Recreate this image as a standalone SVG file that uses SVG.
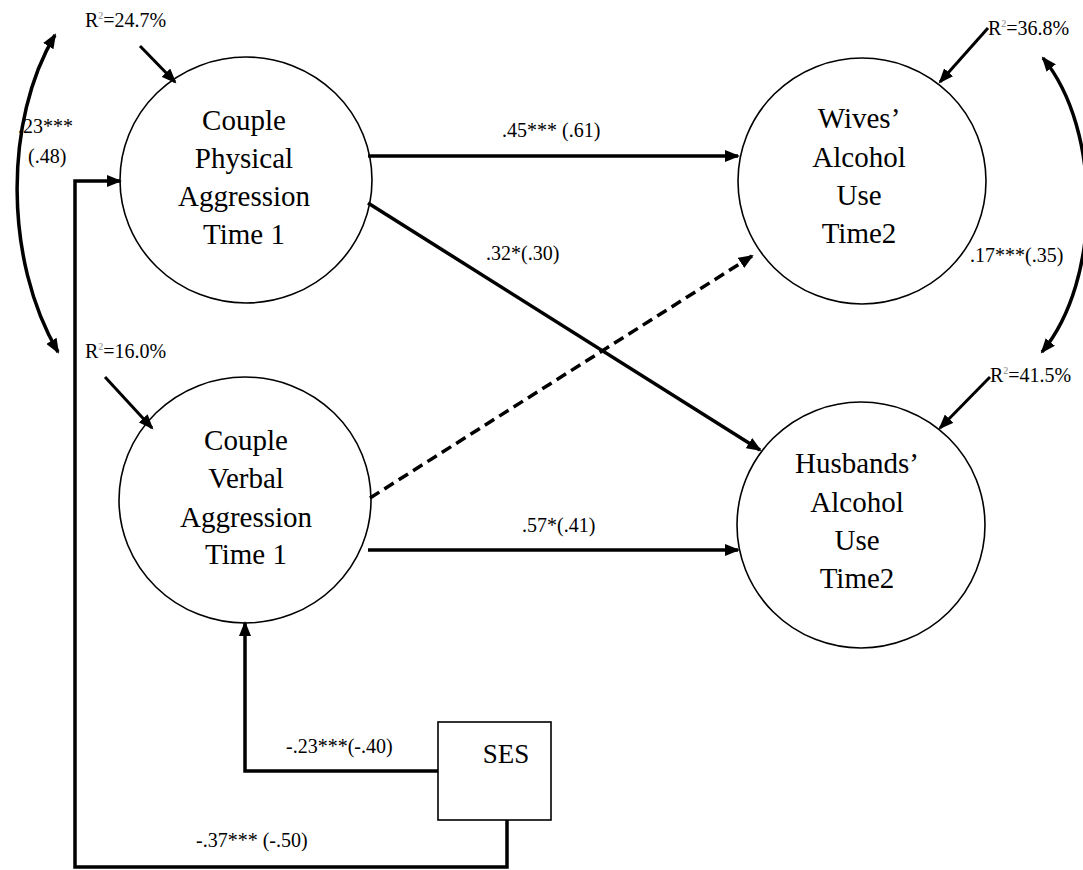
<svg xmlns="http://www.w3.org/2000/svg" width="1083" height="870" viewBox="0 0 1083 870">
  <style>
    .node { fill: #fff; stroke: #000; stroke-width: 1.6; }
    .name { font-family: "Liberation Serif", serif; font-size: 29px; text-anchor: middle; fill: #000; }
    .lbl { font-family: "Liberation Serif", serif; font-size: 20px; fill: #000; }
    .sup { font-size: 10px; fill: #888; }
    .path { fill: none; stroke: #000; stroke-width: 3.5; }
    .thin { fill: none; stroke: #000; stroke-width: 3; }
    .dash { stroke-dasharray: 11 6; }
  </style>
  <defs>
    <marker id="head" markerUnits="userSpaceOnUse" markerWidth="16" markerHeight="12" refX="13" refY="6" orient="auto-start-reverse">
      <path d="M0,0 L15,6 L0,12 z" fill="#000"/>
    </marker>
  </defs>

  <rect width="1083" height="870" fill="#fff"/>

  <!-- latent constructs -->
  <g id="physical">
    <ellipse class="node" cx="246" cy="180" rx="126" ry="123"/>
    <text class="name" x="244" y="130">Couple</text>
    <text class="name" x="244" y="168">Physical</text>
    <text class="name" x="244" y="206">Aggression</text>
    <text class="name" x="244" y="244">Time 1</text>
  </g>
  <g id="verbal">
    <ellipse class="node" cx="245" cy="500" rx="126" ry="123"/>
    <text class="name" x="246" y="450">Couple</text>
    <text class="name" x="246" y="488">Verbal</text>
    <text class="name" x="246" y="527">Aggression</text>
    <text class="name" x="246" y="564">Time 1</text>
  </g>
  <g id="wives">
    <ellipse class="node" cx="862" cy="181" rx="124" ry="123"/>
    <text class="name" x="859" y="128">Wives’</text>
    <text class="name" x="859" y="167">Alcohol</text>
    <text class="name" x="859" y="205">Use</text>
    <text class="name" x="859" y="243">Time2</text>
  </g>
  <g id="husbands">
    <ellipse class="node" cx="861" cy="525" rx="124" ry="123"/>
    <text class="name" x="857" y="473">Husbands’</text>
    <text class="name" x="857" y="512">Alcohol</text>
    <text class="name" x="857" y="550">Use</text>
    <text class="name" x="857" y="588">Time2</text>
  </g>
  <g id="ses">
    <rect class="node" x="438" y="722" width="113" height="98"/>
    <text class="name" x="506" y="763" style="font-size:27px">SES</text>
  </g>

  <!-- paths, covariances and residual arrows -->
  <g id="connectors">
    <path class="path" d="M368,156 L738,156" marker-end="url(#head)"/>
    <path class="path" d="M368,203 L760,450" marker-end="url(#head)"/>
    <path class="path dash" d="M370,498 L752,256" marker-end="url(#head)"/>
    <path class="path" d="M368,550 L738,550" marker-end="url(#head)"/>
    <path class="path" d="M438,771 L245,771 L245,623" marker-end="url(#head)"/>
    <path class="path" d="M507,820 L507,867 L75,867 L75,181 L120,181" marker-end="url(#head)"/>

    <path class="path" d="M55,35 C4,120 4,260 58,352" marker-start="url(#head)" marker-end="url(#head)"/>
    <path class="path" d="M1043,58 C1102,130 1102,280 1042,352" marker-start="url(#head)" marker-end="url(#head)"/>

    <path class="thin" d="M140,46 L175,82" marker-end="url(#head)"/>
    <path class="thin" d="M105,377 L152,428" marker-end="url(#head)"/>
    <path class="thin" d="M988,28 L940,82" marker-end="url(#head)"/>
    <path class="thin" d="M990,377 L940,428" marker-end="url(#head)"/>
  </g>

  <!-- coefficients -->
  <g id="labels">
    <text class="lbl" x="85" y="27">R<tspan class="sup" dy="-8">2</tspan><tspan dy="8">=24.7%</tspan></text>
    <text class="lbl" x="85" y="358">R<tspan class="sup" dy="-8">2</tspan><tspan dy="8">=16.0%</tspan></text>
    <text class="lbl" x="988" y="35">R<tspan class="sup" dy="-8">2</tspan><tspan dy="8">=36.8%</tspan></text>
    <text class="lbl" x="990" y="382">R<tspan class="sup" dy="-8">2</tspan><tspan dy="8">=41.5%</tspan></text>
    <text class="lbl" x="18" y="133">.23***</text>
    <text class="lbl" x="28" y="163">(.48)</text>
    <text class="lbl" x="970" y="262">.17***(.35)</text>
    <text class="lbl" x="502" y="137">.45*** (.61)</text>
    <text class="lbl" x="486" y="260">.32*(.30)</text>
    <text class="lbl" x="522" y="532">.57*(.41)</text>
    <text class="lbl" x="286" y="753">-.23***(-.40)</text>
    <text class="lbl" x="196" y="847">-.37*** (-.50)</text>
  </g>
</svg>
